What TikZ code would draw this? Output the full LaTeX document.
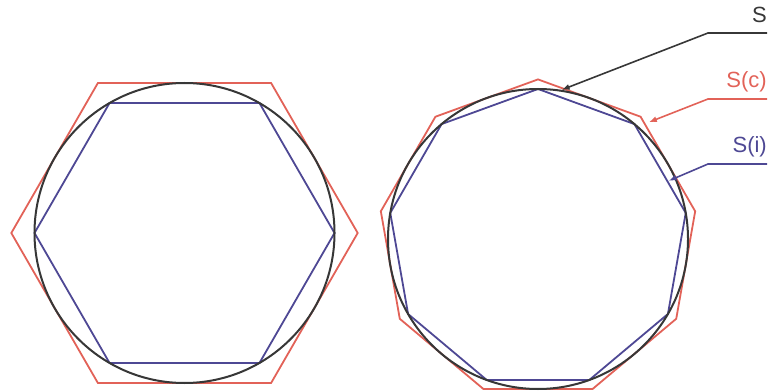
\documentclass[tikz,border=0pt]{standalone}
\usepackage{fontspec}
\setmainfont{Liberation Sans}
\usetikzlibrary{arrows.meta}
\definecolor{circgray}{RGB}{55,55,55}
\definecolor{outred}{RGB}{226,98,88}
\definecolor{inblue}{RGB}{78,72,148}
\tikzset{
  circ/.style={circgray, line width=2pt},
  outer/.style={outred, line width=1.8pt},
  inner/.style={inblue, line width=1.8pt},
  lbl/.style={font=\fontsize{22}{24}\selectfont, inner sep=0pt, anchor=base east},
  leader/.style={line width=1.6pt, ->}
}
\begin{document}
\begin{tikzpicture}[x=1pt, y=1pt, >={Latex[length=8pt,width=6pt]}]
    \useasboundingbox (0,0) rectangle (770,391);

    % Hexagons
    \begin{scope}[shift={(184.5,158)}]
        \draw[outer] plot[samples at={0,60,...,300}] (\x:173.2) -- cycle;
        \draw[inner] plot[samples at={0,60,...,300}] (\x:150) -- cycle;
        \draw[circ] (0,0) circle (150);
    \end{scope}

    % Nonagons
    \begin{scope}[shift={(538,152)}]
        \draw[outer] plot[samples at={90,130,...,410}] (\x:159.6) -- cycle;
        \draw[inner] plot[samples at={90,130,...,410}] (\x:150) -- cycle;
        \draw[circ] (0,0) circle (150);
        \coordinate (sTip) at (81:151);
        \coordinate (cTip) at (46.5:161);
        \coordinate (iTip) at (24:143);
    \end{scope}

    % Labels
    \node[lbl, circgray] (sLbl) at (767,368) {S};
    \node[lbl, outred] (cLbl) at (767,303) {S(c)};
    \node[lbl, inblue] (iLbl) at (767,238) {S(i)};

    \coordinate (sEnd) at (767,358);  \coordinate (sBend) at (708,358);
    \coordinate (cEnd) at (767,292);  \coordinate (cBend) at (708,292);
    \coordinate (iEnd) at (767,227);  \coordinate (iBend) at (708,227);

    \draw[leader, circgray] (sEnd) -- (sBend) -- (sTip);
    \draw[leader, outred] (cEnd) -- (cBend) -- (cTip);
    \draw[leader, inblue] (iEnd) -- (iBend) -- (iTip);
\end{tikzpicture}
\end{document}
